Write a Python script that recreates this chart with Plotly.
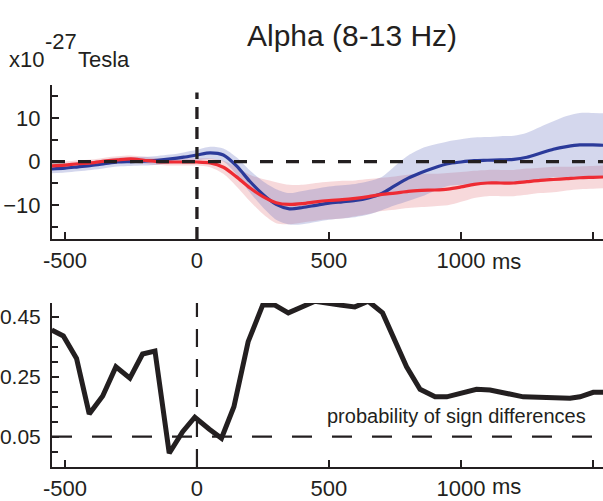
import plotly.graph_objects as go

# ---------------- data ----------------
t = [-550, -500, -450, -400, -350, -300, -250, -200, -150, -100, -50, 0, 50, 100,
     150, 200, 250, 300, 350, 400, 450, 500, 550, 600, 650, 700, 750, 800, 850,
     900, 950, 1000, 1050, 1100, 1150, 1200, 1250, 1300, 1350, 1400, 1450, 1500, 1550]

blue_mean = [-1.7, -1.5, -1.2, -0.9, -0.5, -0.1, 0.0, 0.1, 0.3, 0.6, 1.0, 1.5, 2.0, 1.5,
             -1.0, -4.5, -7.5, -9.8, -10.8, -10.5, -10.0, -9.5, -9.2, -8.9, -8.3, -7.3, -5.5, -3.8, -2.5,
             -1.4, -0.5, -0.1, 0.2, 0.3, 0.4, 0.5, 1.0, 1.9, 2.8, 3.4, 3.8, 3.8, 3.7]
blue_err = [1.0, 1.0, 1.0, 1.0, 1.0, 1.0, 1.0, 1.0, 1.0, 1.0, 1.1, 1.2, 1.4, 1.5,
            2.0, 2.5, 3.0, 3.5, 3.6, 3.8, 3.8, 3.8, 3.8, 3.8, 3.8, 3.8, 4.5, 5.2, 5.5,
            5.3, 5.1, 5.2, 5.3, 5.3, 5.4, 5.4, 5.6, 6.0, 6.4, 7.0, 7.3, 7.3, 7.3]

red_mean = [-1.0, -0.8, -0.5, -0.3, 0.1, 0.4, 0.6, 0.3, 0.0, -0.1, -0.1, -0.1, -0.3, -1.3,
            -3.5, -6.0, -8.0, -9.4, -9.8, -9.6, -9.2, -8.9, -8.7, -8.4, -8.0, -7.5, -7.2, -6.8, -6.6,
            -6.5, -6.3, -5.8, -5.2, -4.9, -4.9, -4.9, -4.6, -4.3, -4.1, -3.9, -3.7, -3.6, -3.5]
red_err = [0.8, 0.8, 0.8, 0.8, 0.8, 0.8, 0.8, 0.8, 0.8, 0.8, 0.8, 0.8, 1.0, 1.5,
           2.2, 3.0, 4.0, 4.7, 4.5, 4.3, 4.3, 4.3, 4.3, 4.1, 4.0, 3.8, 3.8, 3.8, 3.8,
           3.7, 3.7, 3.4, 3.1, 3.0, 3.0, 3.0, 3.0, 2.9, 2.9, 2.7, 2.6, 2.6, 2.6]

p_t = [-550, -506, -456, -408, -357, -307, -254, -206, -159, -105, -54, -8, 47, 93, 140,
       194, 249, 295, 346, 447, 542, 598, 649, 703, 794, 845, 902, 946, 1059, 1110, 1236,
       1413, 1451, 1501, 1540]
p_val = [0.406, 0.386, 0.311, 0.126, 0.186, 0.283, 0.245, 0.326, 0.336, -0.005, 0.067, 0.115,
         0.075, 0.045, 0.150, 0.367, 0.489, 0.489, 0.463, 0.502, 0.489, 0.483, 0.502, 0.463,
         0.283, 0.208, 0.183, 0.183, 0.208, 0.206, 0.183, 0.178, 0.183, 0.198, 0.198]

x_ticks = [-500, 0, 500, 1000, 1500]
x_ticklabels = ["-500", "0", "500", "1000", ""]
top_yticks = [-10, 0, 10]
bot_yticks = [0.05, 0.25, 0.45]
bot_yticklabels = ["0.05", "0.25", "0.45"]

# ---------------- layout constants ----------------
W, H = 603, 501
ML, MR, MT, MB = 52, 0, 85, 34
PW, PH = W - ML - MR, H - MT - MB
def xp(px):
    return (px - ML) / PW
def yp(py):
    return (H - MB - py) / PH

SANS = "Liberation Sans, Arial"
TFONT = dict(family=SANS, size=22, color="#231f20")
YFONT = dict(family=SANS, size=21, color="#231f20")
XR = [-549, 1538]

fig = go.Figure()

lo_b = [m - e for m, e in zip(blue_mean, blue_err)]
hi_b = [m + e for m, e in zip(blue_mean, blue_err)]
lo_r = [m - e for m, e in zip(red_mean, red_err)]
hi_r = [m + e for m, e in zip(red_mean, red_err)]

sm = 0.8
fig.add_trace(go.Scatter(x=t, y=lo_r, mode="lines", line=dict(width=0, shape="spline", smoothing=sm),
                         hoverinfo="skip", showlegend=False, xaxis="x", yaxis="y"))
fig.add_trace(go.Scatter(x=t, y=hi_r, mode="lines", line=dict(width=0, shape="spline", smoothing=sm),
                         fill="tonexty", fillcolor="rgba(225,120,125,0.28)",
                         hoverinfo="skip", showlegend=False, xaxis="x", yaxis="y"))
fig.add_trace(go.Scatter(x=t, y=lo_b, mode="lines", line=dict(width=0, shape="spline", smoothing=sm),
                         hoverinfo="skip", showlegend=False, xaxis="x", yaxis="y"))
fig.add_trace(go.Scatter(x=t, y=hi_b, mode="lines", line=dict(width=0, shape="spline", smoothing=sm),
                         fill="tonexty", fillcolor="rgba(100,110,190,0.28)",
                         hoverinfo="skip", showlegend=False, xaxis="x", yaxis="y"))
fig.add_trace(go.Scatter(x=t, y=blue_mean, mode="lines",
                         line=dict(color="#2b3a9a", width=3.2, shape="spline", smoothing=sm),
                         showlegend=False, xaxis="x", yaxis="y"))
fig.add_trace(go.Scatter(x=t, y=red_mean, mode="lines",
                         line=dict(color="#ee2b33", width=3.2, shape="spline", smoothing=sm),
                         showlegend=False, xaxis="x", yaxis="y"))

fig.add_trace(go.Scatter(x=p_t, y=p_val, mode="lines",
                         line=dict(color="#231f20", width=5),
                         showlegend=False, xaxis="x2", yaxis="y2"))

top_dom = [yp(239), 1.0]
bot_dom = [0.0, yp(303)]

axis_common = dict(showline=True, linecolor="#231f20", linewidth=2, ticks="inside",
                   tickcolor="#231f20", tickwidth=2, ticklen=7, showgrid=False, zeroline=False,
                   automargin=False)

fig.update_layout(
    width=W, height=H, margin=dict(l=ML, r=MR, t=MT, b=MB, autoexpand=False),
    paper_bgcolor="white", plot_bgcolor="white",
    xaxis=dict(domain=[0, 1], range=XR, tickvals=x_ticks, ticktext=x_ticklabels,
               anchor="y", ticklabelstandoff=1, tickfont=TFONT, **axis_common),
    yaxis=dict(domain=top_dom, range=[-17.7, 17.5], tickvals=top_yticks,
               minor=dict(dtick=5, tick0=0, ticks="inside", ticklen=6, tickwidth=2, tickcolor="#231f20"),
               anchor="x", ticklabelstandoff=5, tickfont=TFONT, **axis_common),
    xaxis2=dict(domain=[0, 1], range=XR, tickvals=x_ticks, ticktext=x_ticklabels,
                anchor="y2", ticklabelstandoff=1, tickfont=TFONT, **axis_common),
    yaxis2=dict(domain=bot_dom, range=[-0.051, 0.496], tickvals=bot_yticks, ticktext=bot_yticklabels,
                minor=dict(dtick=0.05, tick0=0.05, ticks="inside", ticklen=6, tickwidth=2, tickcolor="#231f20"),
                anchor="x2", ticklabelstandoff=5, tickfont=YFONT, **axis_common),
)

# reference lines
fig.add_shape(type="line", xref="x", yref="y", x0=XR[0], x1=XR[1], y0=0, y1=0,
              line=dict(color="#231f20", width=3.3, dash="13px,13px"), layer="above")
fig.add_shape(type="line", xref="x", yref="y", x0=0, x1=0, y0=-17.7, y1=15.8,
              line=dict(color="#231f20", width=3.3, dash="12px,8px"), layer="above")
fig.add_shape(type="line", xref="x2", yref="y2", x0=XR[0], x1=XR[1], y0=0.05, y1=0.05,
              line=dict(color="#231f20", width=2.2, dash="20px,20px"), layer="above")
fig.add_shape(type="line", xref="x2", yref="y2", x0=0, x1=0, y0=-0.051, y1=0.496,
              line=dict(color="#231f20", width=2.2, dash="18px,12px"), layer="above")

LF = dict(family=SANS, size=22, color="#231f20")
PF = dict(family=SANS, size=20, color="#231f20")
anns = [
    dict(text="Alpha (8-13 Hz)", x=xp(352), y=yp(53), xanchor="center", yanchor="bottom",
         font=dict(family=SANS, size=30, color="#231f20")),
    dict(text="x10", x=xp(8), y=yp(73), xanchor="left", yanchor="bottom", font=LF),
    dict(text="-27", x=xp(44), y=yp(55), xanchor="left", yanchor="bottom", font=LF),
    dict(text="Tesla", x=xp(77), y=yp(73), xanchor="left", yanchor="bottom", font=LF),
    dict(text="probability of sign differences", x=xp(326), y=yp(416), xanchor="left",
         yanchor="middle", font=PF),
    dict(text="ms", x=xp(491), y=yp(275), xanchor="left", yanchor="bottom", font=TFONT),
    dict(text="ms", x=xp(491), y=yp(500), xanchor="left", yanchor="bottom", font=TFONT),
]
for a in anns:
    fig.add_annotation(xref="paper", yref="paper", showarrow=False, borderpad=0, **a)

fig.write_html("out.html")
